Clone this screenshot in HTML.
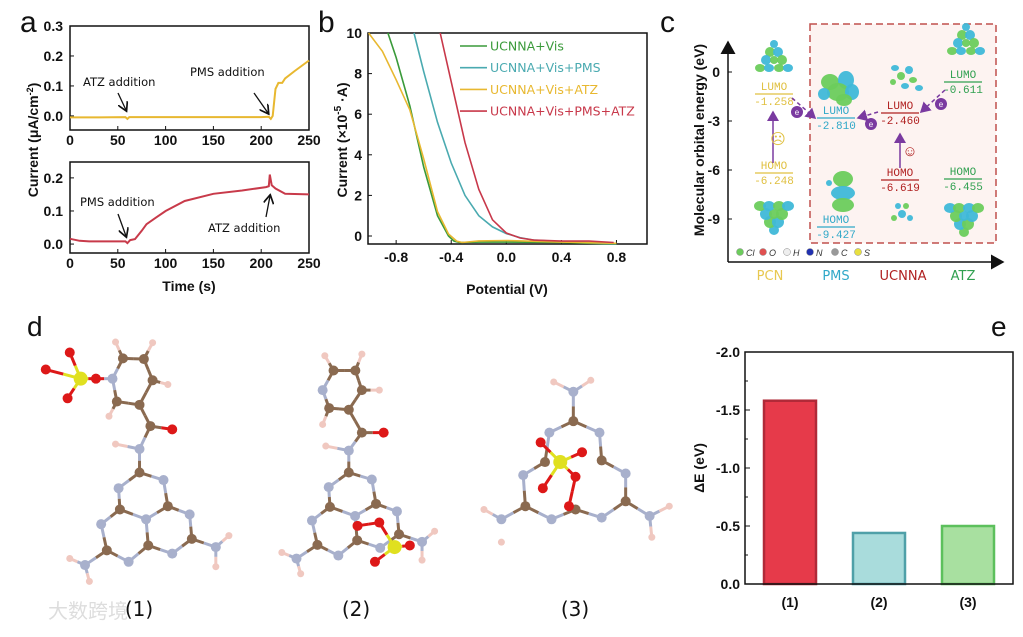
<!DOCTYPE html>
<html><head><meta charset="utf-8"><style>
body{margin:0;background:#fff;}
svg{display:block;font-family:"Liberation Sans",Arial,sans-serif;}
.t{font-weight:bold;font-size:14px;fill:#111}
.c{font-family:"Liberation Mono","DejaVu Sans Mono",monospace;font-size:11px}
</style></head><body>
<svg id="s" width="1023" height="637" viewBox="0 0 1023 637" xmlns="http://www.w3.org/2000/svg">
<defs>
<marker id="ah" markerWidth="8" markerHeight="8" refX="6" refY="4" orient="auto"><path d="M0,0 L7,4 L0,8" fill="none" stroke="#111" stroke-width="1.3"/></marker>
<marker id="ap" markerWidth="8" markerHeight="8" refX="6" refY="4" orient="auto"><path d="M0,0 L7,4 L0,8 z" fill="#7a3aa0"/></marker>
<marker id="ak" markerWidth="10" markerHeight="10" refX="8" refY="5" orient="auto"><path d="M0,0 L9,5 L0,10 z" fill="#111"/></marker>
</defs>
<g id="pa"></g>
<g id="pb"></g>
<g id="pc"></g>
<g id="pd"></g>
<g id="pe"></g>
</svg>
<script>
// ---- data ----
const aTopT=[0,30,58,60,62,100,150,200,208,210,212,215,218,222,225,235,250];
const aTopI=[-0.005,-0.005,-0.004,-0.01,-0.004,-0.004,-0.004,-0.004,-0.003,-0.01,0,0.09,0.11,0.11,0.125,0.15,0.185];
const aBotT=[0,10,20,40,58,60,63,68,75,80,90,100,120,150,180,205,208,209,211,215,225,250];
const aBotI=[0.016,0.01,0.008,0.008,0.008,0.003,0.012,0.015,0.04,0.06,0.08,0.1,0.13,0.152,0.162,0.172,0.175,0.21,0.178,0.168,0.152,0.15];
const aXTicks=[0,50,100,150,200,250];
const aTopYTicks=[0.0,0.1,0.2,0.3];
const aBotYTicks=[0.0,0.1,0.2];
const bSeriesNames=["UCNNA+Vis","UCNNA+Vis+PMS","UCNNA+Vis+ATZ","UCNNA+Vis+PMS+ATZ"];
const bColors=["#3a9a3a","#4aaab0","#e8b830","#c8384a"];
const bGreenV=[-0.86,-0.8,-0.7,-0.6,-0.5,-0.42,-0.38,-0.34,-0.2,0,0.4,0.8];
const bGreenI=[10,8.8,6.4,3.4,1.0,0.0,-0.25,-0.32,-0.3,-0.3,-0.32,-0.4];
const bCyanV=[-0.67,-0.6,-0.5,-0.4,-0.3,-0.2,-0.1,0,0.1,0.2,0.4,0.8];
const bCyanI=[10,8.1,5.6,3.6,2.0,1.0,0.45,0.12,-0.08,-0.2,-0.28,-0.38];
const bYellowV=[-1.0,-0.9,-0.8,-0.7,-0.6,-0.5,-0.42,-0.36,-0.32,-0.2,0,0.4,0.8];
const bYellowI=[10,9.1,7.7,6.2,3.8,1.2,0.1,-0.25,-0.32,-0.24,-0.22,-0.3,-0.36];
const bRedV=[-0.48,-0.4,-0.3,-0.2,-0.1,0,0.1,0.2,0.4,0.6,0.78];
const bRedI=[10,7.6,4.6,2.3,0.8,0.15,-0.1,-0.2,-0.25,-0.25,-0.32];
const bXTicks=[-0.8,-0.4,0.0,0.4,0.8];
const bYTicks=[0,2,4,6,8,10];
const cYTicks=[0,-3,-6,-9];
const eCats=["(1)","(2)","(3)"];
const eVals=[1.58,0.44,0.50];
const eYTicks=[0,0.5,1.0,1.5,2.0];
const eFill=["#e63a4a","#a9dcdc","#a8e0a0"];
const eStroke=["#b02a38","#4fa0a8","#5cc05c"];

const NS="http://www.w3.org/2000/svg";
function mk(p,tag,a,txt){const e=document.createElementNS(NS,tag);for(const k in a)e.setAttribute(k,a[k]);if(txt!==undefined)e.textContent=txt;p.appendChild(e);return e;}
function lin(d0,d1,r0,r1){return v=>r0+(v-d0)/(d1-d0)*(r1-r0);}
function pathOf(xs,ys,fx,fy){return xs.map((v,i)=>(i?"L":"M")+fx(v).toFixed(1)+","+fy(ys[i]).toFixed(1)).join(" ");}

// ---- panel a ----
const pa=document.getElementById('pa');
let l=mk(pa,'text',{x:20,y:32,'font-size':30,fill:'#111'},'a');

function aPlot(y0,y1,dmin,dmax,T,I,col,ticks,name){
  const fx=lin(0,250,70,309), fy=lin(dmin,dmax,y1,y0);
  const g=mk(pa,'g',{});
  
  mk(g,'rect',{x:70,y:y0,width:239,height:y1-y0,fill:'none',stroke:'#111','stroke-width':1.5});
  aXTicks.forEach(t=>{const x=fx(t);mk(g,'line',{x1:x,x2:x,y1:y1,y2:y1-4,stroke:'#111'});
    const tl=mk(g,'text',{x:x,y:y1+15,'text-anchor':'middle',class:'t'},String(t));
    });
  ticks.forEach(t=>{const y=fy(t);mk(g,'line',{x1:70,x2:74,y1:y,y2:y,stroke:'#111'});
    const tl=mk(g,'text',{x:63,y:y+5,'text-anchor':'end',class:'t'},t.toFixed(1));
    });
  const p=mk(g,'path',{d:pathOf(T,I,fx,fy),fill:'none',stroke:col,'stroke-width':2});
  
}
aPlot(26,130,-0.047,0.3,aTopT,aTopI,'#e8b830',aTopYTicks,'plot-a-top');
aPlot(162,253,-0.027,0.248,aBotT,aBotI,'#c83a4a',aBotYTicks,'plot-a-bottom');
[[83,86,'ATZ addition'],[190,76,'PMS addition'],[80,206,'PMS addition'],[208,232,'ATZ addition']].forEach(a=>{
  const t=mk(pa,'text',{x:a[0],y:a[1],'font-size':11.5,fill:'#111','font-family':'"DejaVu Sans",sans-serif'},a[2]);
  });
[[118,93,126,110],[254,93,268,113],[118,214,126,236],[266,217,270,196]].forEach(a=>mk(pa,'line',{x1:a[0],y1:a[1],x2:a[2],y2:a[3],stroke:'#111','stroke-width':1.3,'marker-end':'url(#ah)'}));
l=mk(pa,'text',{x:0,y:0,transform:'translate(38,140) rotate(-90)','text-anchor':'middle',class:'t','font-size':15},'Current (μA/cm');

mk(l,'tspan',{dy:-5,'font-size':9},'-2');mk(l,'tspan',{dy:5},')');
l=mk(pa,'text',{x:189,y:291,'text-anchor':'middle',class:'t'},'Time (s)');


// ---- panel b ----
const pb=document.getElementById('pb');
l=mk(pb,'text',{x:318,y:32,'font-size':30,fill:'#111'},'b');

{const fx=lin(-1,1,368.6,644),fy=lin(0,10,236,33);
 mk(pb,'rect',{x:368,y:33,width:279,height:211,fill:'none',stroke:'#111','stroke-width':1.5});
 bXTicks.forEach(t=>{const x=fx(t);mk(pb,'line',{x1:x,x2:x,y1:244,y2:240,stroke:'#111'});
   const tl=mk(pb,'text',{x:x,y:262,'text-anchor':'middle',class:'t'},t.toFixed(1));
   });
 bYTicks.forEach(t=>{const y=fy(t);mk(pb,'line',{x1:368,x2:372,y1:y,y2:y,stroke:'#111'});
   const tl=mk(pb,'text',{x:362,y:y+5,'text-anchor':'end',class:'t'},String(t));
   });
 const sv=[[bGreenV,bGreenI],[bCyanV,bCyanI],[bYellowV,bYellowI],[bRedV,bRedI]];
 [0,1,2,3].forEach(i=>{const p=mk(pb,'path',{d:pathOf(sv[i][0],sv[i][1],fx,fy),fill:'none',stroke:bColors[i],'stroke-width':1.6});
   });
 bSeriesNames.forEach((n,i)=>{const y=46+i*21.7;const g=mk(pb,'g',{});
   
   mk(g,'line',{x1:460,x2:487,y1:y,y2:y,stroke:bColors[i],'stroke-width':1.6});
   mk(g,'text',{x:490,y:y+4.5,fill:bColors[i],'font-size':12.5,'font-family':'"DejaVu Sans",sans-serif'},n);});
 l=mk(pb,'text',{x:0,y:0,transform:'translate(347,140) rotate(-90)','text-anchor':'middle',class:'t','font-size':16},'Current (×10');
 
 mk(l,'tspan',{dy:-6,'font-size':10},'-5');mk(l,'tspan',{dy:6},' ·A)');
 l=mk(pb,'text',{x:507,y:294,'text-anchor':'middle',class:'t','font-size':17},'Potential (V)');
 
}

// ---- panel c ----
const pc=document.getElementById('pc');
l=mk(pc,'text',{x:660,y:32,'font-size':30,fill:'#111'},'c');

mk(pc,'rect',{x:810,y:24,width:186,height:219,fill:'#fdf3f1',stroke:'#c0504d','stroke-width':1.5,'stroke-dasharray':'7,4'});
mk(pc,'line',{x1:728,y1:262,x2:728,y2:42,stroke:'#111','stroke-width':1.5,'marker-end':'url(#ak)'});
mk(pc,'line',{x1:728,y1:262,x2:1003,y2:262,stroke:'#111','stroke-width':1.5,'marker-end':'url(#ak)'});
{const fy=lin(0,-3,72,121);
 cYTicks.forEach(t=>{const y=fy(t);mk(pc,'line',{x1:728,x2:732,y1:y,y2:y,stroke:'#111'});
  const tl=mk(pc,'text',{x:720,y:y+5,'text-anchor':'end',class:'t'},String(t));
  });}
l=mk(pc,'text',{x:0,y:0,transform:'translate(704,140) rotate(-90)','text-anchor':'middle',class:'t','font-size':16},'Molecular orbital energy (eV)');

[['PCN',770,'#e8c850'],['PMS',836,'#30a8c8'],['UCNNA',903,'#b02020'],['ATZ',963,'#30a050']].forEach(c=>{
 const t=mk(pc,'text',{x:c[1],y:280,'text-anchor':'middle',fill:c[2],'font-size':13,'font-family':'"DejaVu Sans",sans-serif'},c[0]);
 });
[[774,94,'LUMO','-1.258','#e0c040'],[774,173,'HOMO','-6.248','#e0c040'],[836,118,'LUMO','-2.810','#30a8c8'],[836,227,'HOMO','-9.427','#30a8c8'],
 [900,113,'LUMO','-2.460','#b02020'],[900,180,'HOMO','-6.619','#b02020'],[963,82,'LUMO','-0.611','#30a050'],[963,179,'HOMO','-6.455','#30a050']].forEach(v=>{
 const g=mk(pc,'g',{});
 mk(g,'line',{x1:v[0]-19,x2:v[0]+19,y1:v[1],y2:v[1],stroke:v[4],'stroke-width':1.3});
 mk(g,'text',{x:v[0],y:v[1]-4,'text-anchor':'middle',fill:v[4],class:'c'},v[2]);
 mk(g,'text',{x:v[0],y:v[1]+11,'text-anchor':'middle',fill:v[4],class:'c'},v[3]);});
mk(pc,'line',{x1:773,y1:163,x2:773,y2:112,stroke:'#7a3aa0','stroke-width':1.5,'marker-end':'url(#ap)'});
mk(pc,'line',{x1:900,y1:168,x2:900,y2:134,stroke:'#7a3aa0','stroke-width':1.5,'marker-end':'url(#ap)'});
[[792,98,815,118],[878,112,858,118],[945,90,921,112]].forEach(a=>mk(pc,'line',{x1:a[0],y1:a[1],x2:a[2],y2:a[3],stroke:'#7a3aa0','stroke-width':1.5,'stroke-dasharray':'4,3','marker-end':'url(#ap)'}));
[[797,112],[871,124],[941,104]].forEach(e=>{mk(pc,'circle',{cx:e[0],cy:e[1],r:6,fill:'#7a3aa0'});mk(pc,'text',{x:e[0],y:e[1]+3,'text-anchor':'middle',fill:'#fff','font-size':8},'e');});
mk(pc,'text',{x:778,y:144,'text-anchor':'middle',fill:'#e0c040','font-size':15},'☹');
mk(pc,'text',{x:910,y:156,'text-anchor':'middle',fill:'#b02020','font-size':15},'☺');
function blobs(cx,cy,list){list.forEach(b=>mk(pc,'ellipse',{cx:cx+b[0],cy:cy+b[1],rx:b[2],ry:b[3],fill:b[4]?'#3fb8d8':'#6ccc5c',opacity:0.95}));}
const tri=[[0,-18,4,4,1],[-4,-10,5,5,0],[4,-10,5,5,1],[-8,-2,5,5,1],[0,-2,4,4,0],[8,-2,5,5,0],[-14,6,5,4,0],[-5,6,5,4,1],[5,6,5,4,0],[14,6,5,4,1]];
blobs(774,62,tri);blobs(966,45,tri);blobs(774,210,tri.map(b=>[b[0],-b[1]+2,b[2]+1,b[3]+1,b[4]]));blobs(964,212,tri.map(b=>[b[0],-b[1]+2,b[2]+1,b[3]+1,1-b[4]]));
blobs(838,88,[[-8,-6,9,8,0],[8,-8,8,9,1],[0,4,11,9,0],[14,4,7,8,1],[-14,6,6,6,1],[6,12,8,6,0]]);
blobs(843,195,[[0,-16,10,8,0],[0,-2,12,7,1],[0,10,11,7,0],[-14,-12,3,3,1]]);
blobs(905,76,[[-10,-8,4,3,1],[-4,0,4,4,0],[4,-6,4,4,1],[8,4,4,3,0],[14,12,4,3,1],[0,10,4,3,1],[-12,6,3,3,0]]);
blobs(902,212,[[-4,-6,3,3,1],[4,-6,3,3,0],[0,2,4,4,1],[-8,6,3,3,0],[8,6,3,3,1]]);
[['Cl','#6ccc5c',740],['O','#e05050',763],['H','#eee',787],['N','#2030b0',810],['C','#999',835],['S','#e8e040',858]].forEach(a=>{
 mk(pc,'circle',{cx:a[2],cy:252,r:3.5,fill:a[1],stroke:'#888','stroke-width':0.5});
 mk(pc,'text',{x:a[2]+6,y:256,'font-size':9,fill:'#333','font-style':'italic'},a[0]);});

// ---- panel d (molecule sketches) ----
const pd=document.getElementById('pd');
l=mk(pd,'text',{x:27,y:336,'font-size':28,fill:'#111'},'d');

const X=v=>v*0.436, Y=v=>310+v*0.327;
const col={C:'#8a6a50',N:'#a8b0cc',O:'#dd1818',S:'#e0e020',H:'#f0c8c0'};
const rad={C:5,N:5,O:5,S:7,H:3.5};
function mol(atoms,name,extra,lim){
 const g=mk(pd,'g',{});
 function bond(a,b){const mx=(X(a[1])+X(b[1]))/2,my=(Y(a[2])+Y(b[2]))/2;
   mk(g,'line',{x1:X(a[1]),y1:Y(a[2]),x2:mx,y2:my,stroke:col[a[0]],'stroke-width':3});
   mk(g,'line',{x1:mx,y1:my,x2:X(b[1]),y2:Y(b[2]),stroke:col[b[0]],'stroke-width':3});}
 for(let i=0;i<atoms.length;i++)for(let j=i+1;j<atoms.length;j++){
   const a=atoms[i],b=atoms[j];
   if(a[0]==='H'&&b[0]==='H')continue;
   if(a[0]==='O'||b[0]==='O'||a[0]==='S'||b[0]==='S')continue;
   if(a[0]==='N'&&b[0]==='N')continue;
   const d=Math.hypot(a[1]-b[1],a[2]-b[2]);
   const lm=(a[0]==='H'||b[0]==='H')?70:lim;
   if(d<lm)bond(a,b);}
 (extra||[]).forEach(p=>bond(atoms[p[0]],atoms[p[1]]));
 atoms.forEach(a=>mk(g,'circle',{cx:X(a[1]),cy:Y(a[2]),r:rad[a[0]],fill:col[a[0]]}));
}
const ring=[['N',320,425],['H',265,410],['C',320,497],['N',272,545],['N',375,520],['C',275,610],['C',385,600],['N',335,640],['N',232,655],['N',435,625],['C',245,735],['C',440,700],['C',340,720],['N',295,770],['N',395,745],['N',195,780],['N',495,725],['H',160,760],['H',205,830],['H',525,690],['H',495,785]];
mol([['S',185,210],['O',105,182],['O',160,130],['O',155,270],['O',220,210],['N',258,210],['C',282,148],['C',330,150],['C',350,215],['C',320,290],['C',268,280],['H',265,98],['H',350,100],['H',385,228],['H',250,325],['C',345,355],['O',395,365]].concat(ring),'molecule-1',[[0,1],[0,2],[0,3],[0,4],[4,5],[15,16]],84);
const r2=ring.map(a=>[a[0],(a[1]-320)*0.96+800,(a[2]-425)*0.93+430]);
const m2=[['N',740,245],['C',765,185],['C',815,185],['C',830,245],['C',800,305],['C',755,300],['H',745,140],['H',830,135],['H',870,245],['H',740,350],['C',830,375],['O',880,375]].concat(r2).concat([['O',820,660],['O',870,650],['S',905,725],['O',860,770],['O',940,720]]);
const n2=m2.length;
mol(m2,'molecule-2',[[10,11],[n2-5,n2-4],[n2-4,n2-3],[n2-3,n2-2],[n2-3,n2-1]],84);
mol([['N',1315,250],['H',1270,220],['H',1355,215],['C',1315,340],['N',1260,375],['N',1375,375],['C',1250,465],['C',1380,460],['N',1200,505],['N',1435,500],['C',1205,600],['C',1435,585],['N',1265,640],['N',1380,635],['N',1150,640],['N',1490,630],['H',1110,610],['H',1150,710],['H',1535,600],['H',1495,695],['C',1320,610],['S',1285,465],['O',1240,405],['O',1335,435],['O',1245,545],['O',1320,510],['O',1305,600]],'molecule-3',[[21,22],[21,23],[21,24],[21,25],[25,26]],110);
[['(1)',139],['(2)',356],['(3)',575]].forEach(c=>{const t=mk(pd,'text',{x:c[1],y:616,'text-anchor':'middle','font-size':20,fill:'#111','font-family':'"DejaVu Sans",sans-serif'},c[0]);
 });
l=mk(pd,'text',{x:48,y:618,'font-size':20,fill:'#ddd','font-family':'"Liberation Sans","Noto Sans CJK SC",sans-serif'},'大数跨境');


// ---- panel e ----
const pe=document.getElementById('pe');
l=mk(pe,'text',{x:991,y:336,'font-size':28,fill:'#111'},'e');

{const fy=lin(0,2,584,352),fx=i=>790+i*89;
 eVals.forEach((v,i)=>{const r=mk(pe,'rect',{x:fx(i)-26,y:fy(v),width:52,height:584-fy(v),fill:eFill[i],stroke:eStroke[i],'stroke-width':2.5});
  
  const t=mk(pe,'text',{x:fx(i),y:607,'text-anchor':'middle',class:'t'},eCats[i]);
  });
 mk(pe,'rect',{x:745,y:352,width:268,height:232,fill:'none',stroke:'#111','stroke-width':1.5});
 eYTicks.forEach(t=>{const y=fy(t);mk(pe,'line',{x1:745,x2:750,y1:y,y2:y,stroke:'#111'});
  const tl=mk(pe,'text',{x:740,y:y+5,'text-anchor':'end',class:'t','font-size':15},t===0?'0.0':'-'+t.toFixed(1));
  });
 [0.25,0.75,1.25,1.75].forEach(t=>mk(pe,'line',{x1:745,x2:748,y1:fy(t),y2:fy(t),stroke:'#111'}));
 l=mk(pe,'text',{x:0,y:0,transform:'translate(704,468) rotate(-90)','text-anchor':'middle',class:'t','font-size':15},'ΔE (eV)');
 
}
</script>
</body></html>
